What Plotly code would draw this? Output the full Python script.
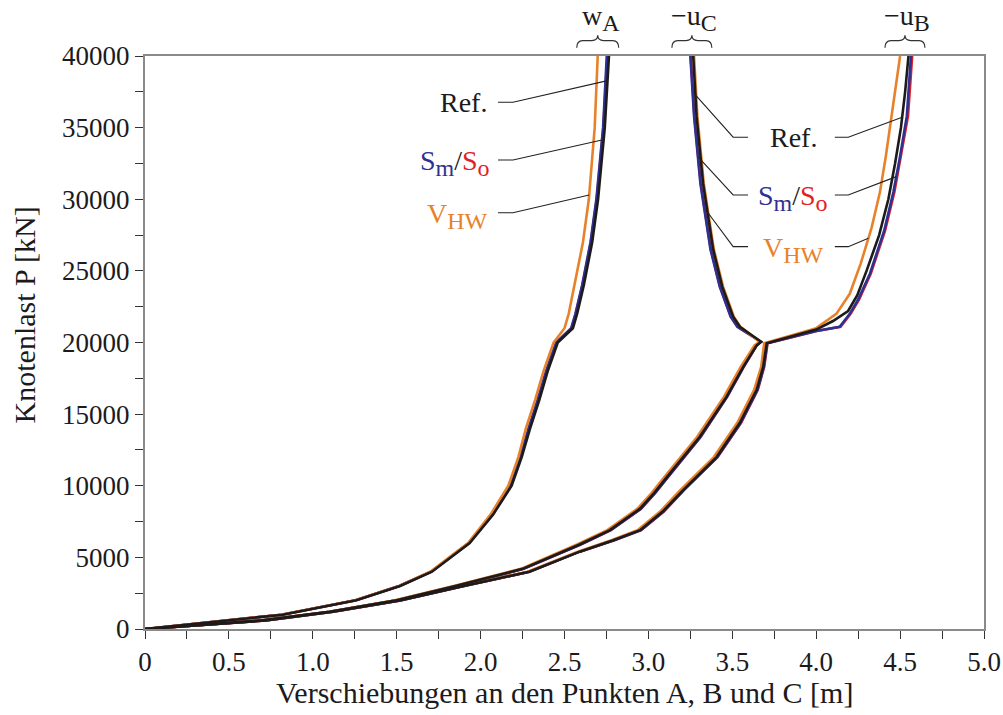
import numpy as np
import plotly.graph_objects as go

# ---------------- data (displacement [m] vs. load P [kN]) ----------------
# w_A
wA_P = [0, 1000, 2000, 3000, 4000, 6000, 8000, 10000, 12000, 14000, 16000, 18000,
        20000, 21000, 22000, 24000, 27000, 30000, 35000, 40000]
wA_ref = [0, 0.82, 1.26, 1.52, 1.71, 1.935, 2.075, 2.185, 2.245, 2.295, 2.35, 2.40,
          2.46, 2.55, 2.575, 2.615, 2.665, 2.70, 2.74, 2.765]
wA_sm = [0, 0.815, 1.255, 1.515, 1.705, 1.93, 2.07, 2.178, 2.237, 2.286, 2.34, 2.39,
         2.45, 2.54, 2.565, 2.605, 2.655, 2.69, 2.73, 2.752]
wA_so = [0, 0.816, 1.256, 1.516, 1.706, 1.931, 2.071, 2.18, 2.239, 2.288, 2.342, 2.392,
         2.452, 2.542, 2.567, 2.607, 2.657, 2.692, 2.732, 2.755]
wA_vhw = [0, 0.81, 1.255, 1.515, 1.70, 1.925, 2.06, 2.165, 2.225, 2.27, 2.325, 2.375,
          2.435, 2.50, 2.525, 2.56, 2.61, 2.645, 2.68, 2.698]

# -u_C (loading branch up to ~20000 kN, then snap-back branch)
uC_P = [0, 600, 1200, 2000, 3000, 4200, 5900, 6900, 8400, 9500, 10600, 13400, 16200,
        18300, 19800, 20050, 21100, 21800, 23900, 26500, 31100, 35800, 40000]
uC_ref = [0, 0.70, 1.10, 1.50, 1.85, 2.25, 2.59, 2.77, 2.95, 3.035, 3.11, 3.305, 3.465,
          3.565, 3.645, 3.672, 3.545, 3.505, 3.44, 3.386, 3.326, 3.287, 3.267]
uC_sm = [0, 0.70, 1.10, 1.50, 1.855, 2.255, 2.595, 2.775, 2.955, 3.04, 3.115, 3.31, 3.468,
         3.567, 3.645, 3.67, 3.53, 3.49, 3.425, 3.37, 3.31, 3.272, 3.25]
uC_so = [0, 0.70, 1.10, 1.50, 1.856, 2.256, 2.596, 2.776, 2.956, 3.041, 3.116, 3.311,
         3.469, 3.568, 3.646, 3.671, 3.532, 3.492, 3.427, 3.372, 3.312, 3.274, 3.252]
uC_vhw = [0, 0.70, 1.10, 1.49, 1.84, 2.24, 2.575, 2.755, 2.935, 3.02, 3.095, 3.29, 3.45,
          3.55, 3.632, 3.662, 3.548, 3.509, 3.445, 3.39, 3.33, 3.292, 3.272]
UC_TURN = 15  # index where the snap-back branch starts

# -u_B
uB_ref_P = [0, 600, 1200, 2000, 3000, 4000, 5400, 6200, 6900, 8200, 9700, 12000, 14400,
            16700, 18300, 19950, 20900, 21500, 22200, 23300, 25000, 27500, 30000, 32500,
            35000, 37500, 40000]
uB_ref = [0, 0.72, 1.12, 1.52, 1.90, 2.29, 2.59, 2.79, 2.95, 3.085, 3.207, 3.406, 3.545,
          3.645, 3.684, 3.705, 4.00, 4.10, 4.19, 4.245, 4.30, 4.375, 4.43, 4.47, 4.505,
          4.53, 4.55]
uB_sm_P = [0, 600, 1200, 2000, 3000, 4000, 5400, 6200, 6900, 8200, 9700, 12000, 14400,
           16700, 18300, 19950, 20800, 21100, 22000, 23000, 24800, 27800, 30500, 33000,
           35800, 40000]
uB_sm = [0, 0.72, 1.12, 1.52, 1.90, 2.29, 2.59, 2.795, 2.955, 3.09, 3.21, 3.41, 3.55,
         3.65, 3.688, 3.708, 4.00, 4.14, 4.20, 4.25, 4.32, 4.405, 4.46, 4.50, 4.54, 4.565]
uB_so = [0, 0.72, 1.12, 1.52, 1.90, 2.29, 2.59, 2.797, 2.957, 3.092, 3.212, 3.412, 3.552,
         3.652, 3.69, 3.71, 4.003, 4.145, 4.205, 4.255, 4.325, 4.41, 4.466, 4.506, 4.547,
         4.572]
uB_vhw_P = [0, 600, 1200, 2000, 3000, 4000, 5400, 6200, 6900, 8200, 9700, 12000, 14400,
            16700, 18300, 19950, 21000, 22000, 23400, 25500, 28000, 30500, 33000, 35500,
            37500, 40000]
uB_vhw = [0, 0.715, 1.115, 1.51, 1.89, 2.28, 2.58, 2.78, 2.935, 3.07, 3.19, 3.39, 3.53,
          3.63, 3.672, 3.69, 4.00, 4.12, 4.20, 4.265, 4.33, 4.38, 4.415, 4.445, 4.47, 4.50]
UB_TURN = 15

x_ticks = [0, 0.5, 1.0, 1.5, 2.0, 2.5, 3.0, 3.5, 4.0, 4.5, 5.0]
x_ticktext = ["0", "0.5", "1.0", "1.5", "2.0", "2.5", "3.0", "3.5", "4.0", "4.5", "5.0"]
y_ticks = [0, 5000, 10000, 15000, 20000, 25000, 30000, 35000, 40000]
y_ticktext = ["0", "5000", "10000", "15000", "20000", "25000", "30000", "35000", "40000"]

# ---------------- styles ----------------
C_REF = "#1d1a1b"
C_SM = "#2e3192"
C_SO = "#e31e24"
C_VHW = "#e8822a"
FONT = "Liberation Serif"
LW = 2.6

fig = go.Figure()

def add(x, y, color, w=LW):
    fig.add_trace(go.Scatter(x=x, y=y, mode="lines", line=dict(color=color, width=w),
                             hoverinfo="skip", showlegend=False))

# draw order: So (red) under Sm (blue), then VHW, then Ref on top
for (xa, ya) in [(wA_so, wA_P), (uC_so, uC_P), (uB_so, uB_sm_P)]:
    add(xa, ya, C_SO)
for (xa, ya) in [(wA_sm, wA_P), (uC_sm, uC_P), (uB_sm, uB_sm_P)]:
    add(xa, ya, C_SM)
for (xa, ya) in [(wA_vhw, wA_P), (uC_vhw, uC_P), (uB_vhw, uB_vhw_P)]:
    add(xa, ya, C_VHW)
for (xa, ya) in [(wA_ref, wA_P), (uC_ref, uC_P), (uB_ref, uB_ref_P)]:
    add(xa, ya, C_REF)

# ---------------- leader lines (end points taken on the curves) ----------------
def on_curve(P_arr, x_arr, p, start=0):
    return float(np.interp(p, P_arr[start:], x_arr[start:]))

KNEE_L = (2.104, 2.193)   # left labels: text end, knee
KNEE_ML = (3.505, 3.594)  # middle labels, left side
KNEE_MR = (4.111, 4.191)  # middle labels, right side
lead_w = 1.1
lc = "#222222"

def leader(xs, ys):
    add(xs, ys, lc, lead_w)

# left group (w_A)
for yy, p_end, (Pa, xa) in [(36770, 38280, (wA_P, wA_ref)),
                            (32740, 34140, (wA_P, wA_sm)),
                            (29060, 30300, (wA_P, wA_vhw))]:
    leader([KNEE_L[0], KNEE_L[1], on_curve(Pa, xa, p_end)], [yy, yy, p_end])

# middle group, to u_C (snap-back branch)
for yy, p_end, xa in [(34330, 37280, uC_ref), (30300, 32970, uC_sm), (26690, 29020, uC_vhw)]:
    leader([on_curve(uC_P, xa, p_end, UC_TURN), KNEE_ML[0], KNEE_ML[1]], [p_end, yy, yy])

# middle group, to u_B
for yy, p_end, Pa, xa in [(34330, 35720, uB_ref_P, uB_ref), (30300, 31580, uB_sm_P, uB_sm),
                          (26690, 27270, uB_vhw_P, uB_vhw)]:
    leader([KNEE_MR[0], KNEE_MR[1], on_curve(Pa, xa, p_end, UB_TURN)], [yy, yy, p_end])

# ---------------- text ----------------
lab_font = dict(family=FONT, size=28, color="#1d1a1b")
SUB = '<sub><span style="font-size:24px">%s</span></sub>'
smso = ('<span style="color:%s">S' + SUB % 'm' + '</span>/'
        '<span style="color:%s">S' + SUB % 'o' + '</span>') % (C_SM, C_SO)
vhw = ('<span style="color:%s">V' + SUB % 'HW' + '</span>') % C_VHW

annotations = [
    dict(x=2.048, y=36770, text="Ref.", xanchor="right", yanchor="middle"),
    dict(x=2.065, y=32740, text=smso, xanchor="right", yanchor="middle", yshift=-3),
    dict(x=2.058, y=29060, text=vhw, xanchor="right", yanchor="middle", yshift=-3),
    dict(x=3.863, y=34330, text="Ref.", xanchor="center", yanchor="middle"),
    dict(x=3.861, y=30300, text=smso, xanchor="center", yanchor="middle", yshift=-3),
    dict(x=3.863, y=26690, text=vhw, xanchor="center", yanchor="middle", yshift=-3),
]
for a in annotations:
    a.update(xref="x", yref="y", showarrow=False, font=lab_font)

for xc, txt in [(2.72, "w" + SUB % "A"), (3.27, "\u2212u" + SUB % "C"),
                (4.54, "\u2212u" + SUB % "B")]:
    annotations.append(dict(x=xc, y=1.066, xref="x", yref="paper", text=txt,
                            showarrow=False, font=lab_font, xanchor="center",
                            yanchor="middle"))

# axis titles
title_font = dict(family=FONT, size=30, color="#1d1a1b")
annotations.append(dict(x=0.5, y=-0.11, xref="paper", yref="paper",
                        text="Verschiebungen an den Punkten A, B und C [m]",
                        showarrow=False, font=title_font,
                        xanchor="center", yanchor="middle"))
annotations.append(dict(x=-0.1425, y=0.548, xref="paper", yref="paper",
                        text="Knotenlast P [kN]", textangle=-90,
                        showarrow=False, font=title_font,
                        xanchor="center", yanchor="middle"))

# ---------------- braces over the top labels ----------------
shapes = []
def brace(xl, xr):
    # data x -> paper fraction via the axis range [0, 5]
    x0, x1 = xl / 5.0, xr / 5.0
    xm = (x0 + x1) / 2
    r = 0.007
    yE, yB, yT = 1.0145, 1.027, 1.036
    path = (f"M {x0},{yE} Q {x0},{yB} {x0 + r},{yB} L {xm - r},{yB} "
            f"Q {xm},{yB} {xm},{yT} Q {xm},{yB} {xm + r},{yB} "
            f"L {x1 - r},{yB} Q {x1},{yB} {x1},{yE}")
    shapes.append(dict(type="path", xref="paper", yref="paper", path=path,
                       line=dict(color="#333333", width=1.2)))

brace(2.573, 2.823)
brace(3.140, 3.378)
brace(4.410, 4.648)

axis_common = dict(showline=True, linecolor="#8a8a8a", linewidth=2, mirror=True,
                   ticks="outside", ticklen=8, tickwidth=1.4, tickcolor="#333333",
                   showgrid=False, zeroline=False, automargin=False,
                   tickfont=dict(family=FONT, size=27, color="#1d1a1b"))

fig.update_layout(
    width=1003, height=715,
    margin=dict(l=145, r=19, t=56, b=86, autoexpand=False),
    paper_bgcolor="white", plot_bgcolor="white",
    showlegend=False,
    xaxis=dict(range=[0, 5], tickvals=x_ticks, ticktext=x_ticktext,
               minor=dict(dtick=0.25, tick0=0, ticks="outside", ticklen=8,
                          tickwidth=1.4, tickcolor="#333333"),
               **axis_common),
    yaxis=dict(range=[0, 40000], tickvals=y_ticks, ticktext=y_ticktext,
               minor=dict(dtick=2500, tick0=0, ticks="outside", ticklen=8,
                          tickwidth=1.4, tickcolor="#333333"),
               **axis_common),
    annotations=annotations,
    shapes=shapes,
    font=dict(family=FONT),
)

fig.write_html("out.html")
